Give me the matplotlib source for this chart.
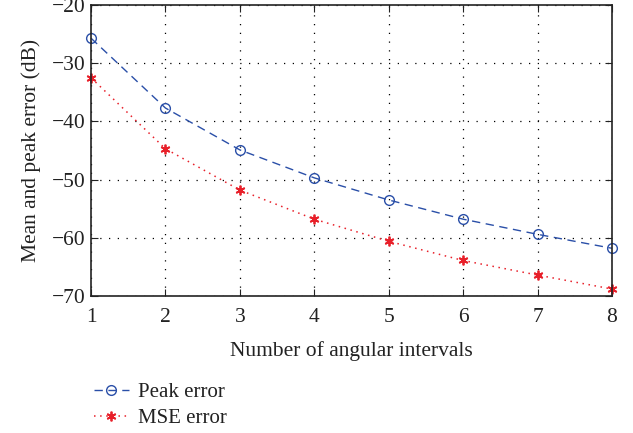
import numpy as np
import matplotlib.pyplot as plt

plt.rcParams['font.family'] = ['Liberation Serif', 'DejaVu Serif']

intervals = [1, 2, 3, 4, 5, 6, 7, 8]
peak_error = [-25.7, -37.7, -44.9, -49.7, -53.5, -56.8, -59.4, -61.8]
mse_error = [-32.5, -44.7, -51.8, -56.8, -60.6, -63.9, -66.4, -68.8]

txt = '#222222'

fig = plt.figure(figsize=(6.33, 4.33), dpi=100)
ax = fig.add_axes([0.1438, 0.3164, 0.823, 0.672])

ax.plot(intervals, peak_error, color='#2a4fa8', linestyle=(0, (6, 4)), linewidth=1.0,
        marker='o', markersize=7, markerfacecolor='none', markeredgewidth=1.0,
        label='Peak error', clip_on=False)
ax.plot(intervals, mse_error, color='#e8202a', linestyle=(0, (1, 3)), linewidth=1.1,
        marker=(6, 2, 0), markersize=7, markeredgewidth=1.3,
        label='MSE error', clip_on=False)

ax.set_xlim(1, 8)
ax.set_ylim(-70, -20)
ax.set_xticks(intervals)
ax.set_yticks([-70, -60, -50, -40, -30, -20])
ax.set_yticklabels(['\u221270', '\u221260', '\u221250', '\u221240', '\u221230', '\u221220'])
ax.grid(True, color='black', linestyle=(0, (1, 6)), linewidth=0.9)
ax.tick_params(direction='in', top=True, right=True, length=5, labelsize=15.5,
               colors=txt)
ax.tick_params(axis='x', pad=9)
ax.tick_params(axis='y', pad=4)
for s in ax.spines.values():
    s.set_color('#222222')
    s.set_linewidth(1.2)

ax.set_xlabel('Number of angular intervals', fontsize=15.5, color=txt, labelpad=10)
ax.set_ylabel('Mean and peak error (dB)', fontsize=15.5, color=txt, labelpad=8)

fig.legend(loc='upper left', bbox_to_anchor=(0.135, 0.135), frameon=False,
           fontsize=15, handlelength=1.7, handletextpad=0.4, labelspacing=0.3,
           borderaxespad=0, labelcolor=txt)

fig.savefig('out.png', dpi=100)
